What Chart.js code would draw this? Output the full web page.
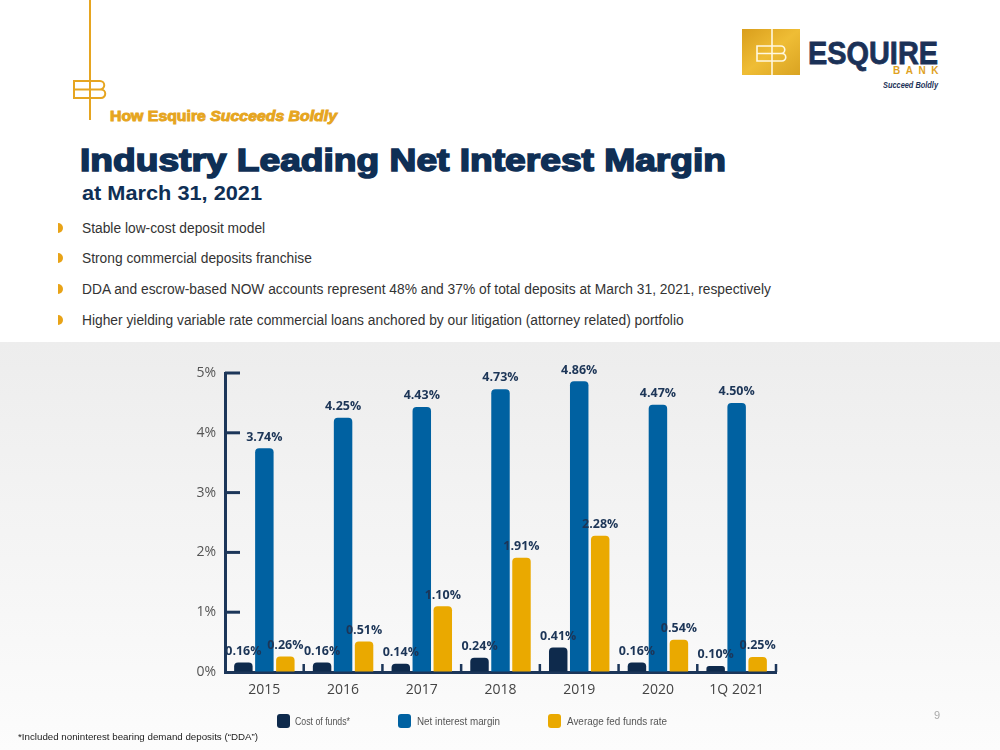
<!DOCTYPE html>
<html>
<head>
<meta charset="utf-8">
<script src="https://cdn.jsdelivr.net/npm/chart.js@4.4.1/dist/chart.umd.min.js"></script>
<style>
  html, body { margin:0; padding:0; width:1000px; height:750px; overflow:hidden; background:#fff; }
  body { position:relative; font-family:"Liberation Sans", Arial, sans-serif; }
  .t { position:absolute; white-space:nowrap; line-height:1; transform-origin:0 0; }
  #panel { position:absolute; left:0; top:342px; width:1000px; height:408px; background:linear-gradient(#ededed, #fcfcfc); }
  #cv { position:absolute; left:0; top:342px; }
  .bul { position:absolute; width:5px; height:10px; background:#e8a317; border-radius:0 6px 6px 0; }
  .lg { position:absolute; width:13px; height:14px; border-radius:3px; top:714px; }
  .lt { position:absolute; top:715px; font-family:"Liberation Sans Narrow","Liberation Sans",sans-serif; font-size:11px; color:#555; white-space:nowrap; line-height:12px; transform-origin:0 0; }
</style>
</head>
<body>
<div id="panel"></div>

<!-- left brand mark -->
<svg style="position:absolute;left:0;top:0" width="120" height="125">
  <g fill="none" stroke="#e6a520" stroke-width="2">
    <line x1="90" y1="0" x2="90" y2="120"/>
    <path d="M90 81 H74 V98 H90 M74 89.5 H90"/>
    <path d="M90 81 H100 A4.2 4.2 0 0 1 100 89.5 H90 M100 89.5 H101 A4.25 4.25 0 0 1 101 98 H90"/>
  </g>
</svg>
<div class="t" id="how" style="left:110px;top:109px;font-size:14px;font-weight:bold;color:#e6a520;-webkit-text-stroke:0.9px #e6a520;">How Esquire <i>Succeeds Boldly</i></div>

<!-- right logo -->
<svg style="position:absolute;left:740px;top:26px" width="64" height="52">
  <defs>
    <linearGradient id="gg" x1="0" y1="0" x2="1" y2="1">
      <stop offset="0" stop-color="#d99e1c"/>
      <stop offset="0.5" stop-color="#efbd35"/>
      <stop offset="1" stop-color="#d9a322"/>
    </linearGradient>
  </defs>
  <rect x="2" y="3" width="58" height="46" fill="url(#gg)"/>
  <g fill="none" stroke="#fff8e0" stroke-width="1.6">
    <line x1="32" y1="3" x2="32" y2="49"/>
    <path d="M32 20 H17 V35 H32 M17 27.5 H32"/>
    <path d="M32 20 H41 A3.75 3.75 0 0 1 41 27.5 H32 M41 27.5 H42 A3.75 3.75 0 0 1 42 35 H32"/>
  </g>
</svg>
<div class="t" id="esq" style="left:808px;top:37px;font-size:32px;font-weight:bold;color:#1b3157;-webkit-text-stroke:0.8px #1b3157;">ESQUIRE</div>
<div class="t" id="bank" style="left:893px;top:66px;font-size:10px;font-weight:bold;color:#e0a21f;letter-spacing:5.5px;">BANK</div>
<div class="t" id="sb" style="left:883px;top:80.5px;font-size:8.5px;font-weight:bold;font-style:italic;color:#1b3157;">Succeed Boldly</div>

<!-- titles -->
<div class="t" id="title" style="left:80px;top:144px;font-size:32px;font-weight:bold;color:#0f2f55;-webkit-text-stroke:1.6px #0f2f55;">Industry Leading Net Interest Margin</div>
<div class="t" id="sub" style="left:82px;top:182px;font-size:21px;font-weight:bold;color:#0f2f55;">at March 31, 2021</div>

<!-- bullets -->
<div class="bul" style="left:58px;top:223px"></div>
<div class="bul" style="left:58px;top:253px"></div>
<div class="bul" style="left:58px;top:284px"></div>
<div class="bul" style="left:58px;top:315px"></div>
<div class="t bt" id="b1" style="left:82px;top:221px;font-size:14px;color:#333;">Stable low-cost deposit model</div>
<div class="t bt" id="b2" style="left:82px;top:251px;font-size:14px;color:#333;">Strong commercial deposits franchise</div>
<div class="t bt" id="b3" style="left:82px;top:282px;font-size:14px;color:#333;">DDA and escrow-based NOW accounts represent 48% and 37% of total deposits at March 31, 2021, respectively</div>
<div class="t bt" id="b4" style="left:82px;top:313px;font-size:14px;color:#333;">Higher yielding variable rate commercial loans anchored by our litigation (attorney related) portfolio</div>

<canvas id="cv" width="1000" height="408"></canvas>

<!-- legend -->
<div class="lg" style="left:277px;background:#0e2a4c"></div>
<div class="lt" id="l1" style="left:295px">Cost of funds*</div>
<div class="lg" style="left:398px;background:#0061a1"></div>
<div class="lt" id="l2" style="left:417px">Net interest margin</div>
<div class="lg" style="left:548px;background:#eaa900"></div>
<div class="lt" id="l3" style="left:567px">Average fed funds rate</div>

<div class="t" style="left:934px;top:710px;font-size:11px;color:#aaa;">9</div>
<div class="t" id="foot" style="left:18px;top:732px;font-size:9.5px;color:#222;font-family:'Liberation Sans Narrow','Liberation Sans',sans-serif;">*Included noninterest bearing demand deposits (“DDA”)</div>

<script>
// ---- data ----
const categories = ['2015', '2016', '2017', '2018', '2019', '2020', '1Q 2021'];
const costOfFunds = [0.16, 0.16, 0.14, 0.24, 0.41, 0.16, 0.10];
const netInterestMargin = [3.74, 4.25, 4.43, 4.73, 4.86, 4.47, 4.50];
const avgFedFundsRate = [0.26, 0.51, 1.10, 1.91, 2.28, 0.54, 0.25];
const seriesNames = ['Cost of funds*', 'Net interest margin', 'Average fed funds rate'];
const yTickValues = [0, 1, 2, 3, 4, 5];

// ---- text fitting ----
function fit(id, w) {
  const el = document.getElementById(id);
  const cw = el.getBoundingClientRect().width;
  el.style.transform = 'scaleX(' + (w / cw) + ')';
}
fit('title', 646);
fit('sub', 180);
fit('how', 227);
fit('esq', 130);
fit('sb', 55);
fit('foot', 240);
fit('l1', 55); fit('l2', 83); fit('l3', 100);
(function () {
  const ref = document.getElementById('b3');
  const s = 689 / ref.getBoundingClientRect().width;
  document.querySelectorAll('.bt').forEach(e => e.style.transform = 'scaleX(' + s + ')');
})();

const NAVY = '#1c3659';

const decoPlugin = {
  id: 'deco',
  afterDraw(chart) {
    const ctx = chart.ctx;
    const y = chart.scales.y, x = chart.scales.x;
    const area = chart.chartArea;
    ctx.save();
    ctx.strokeStyle = NAVY;
    ctx.lineWidth = 3;
    yTickValues.forEach(v => {
      if (v === 0) return;
      const py = y.getPixelForValue(v);
      ctx.beginPath(); ctx.moveTo(area.left, py); ctx.lineTo(area.left + 15, py); ctx.stroke();
    });
    ctx.lineWidth = 2.5;
    const step = x.getPixelForValue(1) - x.getPixelForValue(0);
    categories.forEach((c, i) => {
      const px = x.getPixelForValue(i) + step / 2;
      ctx.beginPath(); ctx.moveTo(px, area.bottom); ctx.lineTo(px, area.bottom - 8); ctx.stroke();
    });
    ctx.restore();
  },
  afterDatasetsDraw(chart) {
    const ctx = chart.ctx;
    ctx.save();
    ctx.font = 'bold 12.5px "Open Sans", sans-serif';
    ctx.fillStyle = '#1c3557';
    ctx.textAlign = 'center';
    ctx.textBaseline = 'bottom';
    chart.data.datasets.forEach((ds, i) => {
      const meta = chart.getDatasetMeta(i);
      meta.data.forEach((bar, j) => {
        ctx.fillText(ds.data[j].toFixed(2) + '%', bar.x, bar.y - 5);
      });
    });
    ctx.restore();
  }
};

new Chart(document.getElementById('cv'), {
  type: 'bar',
  data: {
    labels: categories,
    datasets: [
      { label: seriesNames[0], data: costOfFunds, backgroundColor: '#0e2a4c' },
      { label: seriesNames[1], data: netInterestMargin, backgroundColor: '#0061a1' },
      { label: seriesNames[2], data: avgFedFundsRate, backgroundColor: '#eaa900' }
    ]
  },
  options: {
    responsive: false,
    animation: false,
    events: [],
    layout: { padding: { left: 0, right: 224, top: 31, bottom: 0 } },
    datasets: { bar: { categoryPercentage: 0.8, barPercentage: 0.88, borderRadius: { topLeft: 4, topRight: 4 }, borderSkipped: 'start' } },
    plugins: { legend: { display: false }, tooltip: { enabled: false } },
    scales: {
      x: {
        afterFit(s) { s.height = 78; },
        grid: { display: true, drawOnChartArea: false, drawTicks: false, color: 'rgba(0,0,0,0)' },
        border: { display: true, color: NAVY, width: 3 },
        ticks: { padding: 10, color: '#444', font: { family: 'Open Sans', size: 14 } }
      },
      y: {
        min: 0, max: 5,
        afterFit(s) { s.width = 225; },
        afterBuildTicks(s) { s.ticks = yTickValues.map(v => ({ value: v })); },
        grid: { display: true, drawOnChartArea: false, drawTicks: false, color: 'rgba(0,0,0,0)' },
        border: { display: true, color: NAVY, width: 3 },
        ticks: { padding: 9, color: '#555', font: { family: 'Open Sans', size: 14 }, callback: v => v + '%' }
      }
    }
  },
  plugins: [decoPlugin]
});
</script>
</body>
</html>
